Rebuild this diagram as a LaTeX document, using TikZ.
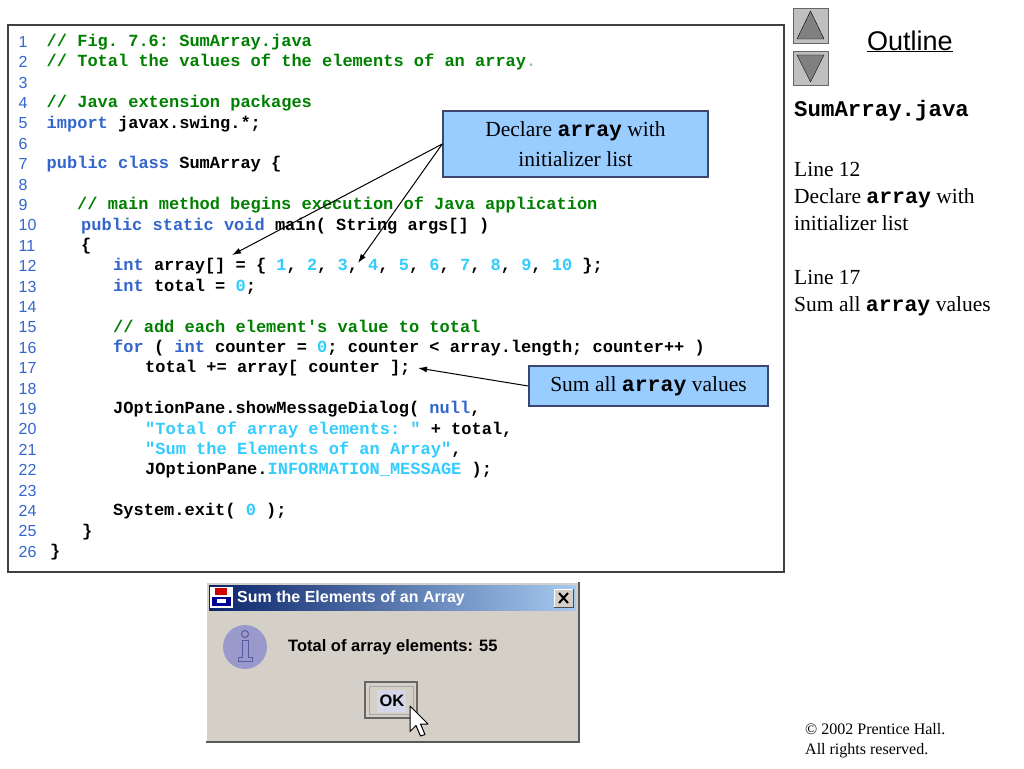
\documentclass[tikz,border=0pt]{standalone}
\usepackage{fontspec}
\setmainfont{Liberation Serif}
\setsansfont{Liberation Sans}
\setmonofont{Liberation Mono}
\usetikzlibrary{arrows.meta}
\definecolor{cmtgreen}{RGB}{0,128,0}
\definecolor{kwblue}{RGB}{51,102,204}
\definecolor{litcyan}{RGB}{51,204,255}
\definecolor{callfill}{RGB}{153,204,255}
\definecolor{callline}{RGB}{60,70,110}
\definecolor{dlggray}{RGB}{212,208,200}
\definecolor{titledark}{RGB}{10,36,106}
\definecolor{titlelight}{RGB}{166,202,240}
\definecolor{infoblue}{RGB}{153,153,204}
\definecolor{infoline}{RGB}{90,90,160}
\newcommand{\cmt}[1]{\textcolor{cmtgreen}{#1}}
\newcommand{\kw}[1]{\textcolor{kwblue}{#1}}
\newcommand{\lit}[1]{\textcolor{litcyan}{#1}}
\newcommand{\fsz}[2]{\fontsize{#1}{#2}\selectfont}

\begin{document}
\begin{tikzpicture}[x=1pt,y=-1pt,
    code/.style={anchor=base west,inner sep=0pt,font=\fsz{17}{20}\ttfamily\bfseries},
    lnum/.style={anchor=base west,inner sep=0pt,text=kwblue,font=\fsz{16}{19}\sffamily},
    callout/.style={draw=callline,line width=1.5pt,fill=callfill,align=center,inner sep=0pt,font=\fsz{21.5}{30}\rmfamily},
    callarrow/.style={-{Latex[length=9pt,width=6pt]},line width=1pt},
    side/.style={anchor=base west,inner sep=0pt,font=\fsz{21.5}{27}\rmfamily},
    dlgtext/.style={inner sep=0pt,font=\fsz{16.5}{20}\sffamily\bfseries}]
  \useasboundingbox (0,0) rectangle (1024,768);
  \fill[white] (0,0) rectangle (1024,768);
  \draw[line width=1.5pt,black!75] (8,25) rectangle (784,572);
  \foreach \i in {1,...,26}
    \node[lnum] (n\i) at (18.5,{41.5+20.4*(\i-1)+5.7}) {\i};
  \foreach \i/\x/\t in {
    1/46.5/{\cmt{// Fig. 7.6: SumArray.java}},
    2/46.5/{\cmt{// Total the values of the elements of an array}\textcolor{cmtgreen!40}{.}},
    4/46.5/{\cmt{// Java extension packages}},
    5/46.5/{\kw{import} javax.swing.*;},
    7/46.5/{\kw{public class} SumArray \{},
    9/77/{\cmt{// main method begins execution of Java application}},
    10/81/{\kw{public static void} main( String args[] )},
    11/81/{\{},
    12/113/{\kw{int} array[] = \{ \lit{1}, \lit{2}, \lit{3}, \lit{4}, \lit{5}, \lit{6}, \lit{7}, \lit{8}, \lit{9}, \lit{10} \};},
    13/113/{\kw{int} total = \lit{0};},
    15/113/{\cmt{// add each element's value to total}},
    16/113/{\kw{for} ( \kw{int} counter = \lit{0}; counter < array.length; counter++ )},
    17/145/{total += array[ counter ];},
    19/113/{JOptionPane.showMessageDialog( \kw{null},},
    20/145/{\lit{"Total of array elements: "} + total,},
    21/145/{\lit{"Sum the Elements of an Array"},},
    22/145/{JOptionPane.\lit{INFORMATION\_MESSAGE} );},
    24/113/{System.exit( \lit{0} );},
    25/82/{\}},
    26/50/{\}}}
    \node[code] (c\i) at (\x,{41.5+20.4*(\i-1)+5}) {\t};
  \node[callout,minimum width=265,minimum height=66] (decl) at (575.5,144)
    {Declare \textbf{\texttt{array}} with\\initializer list};
  \node[callout,minimum width=239,minimum height=40] (sumall) at (648.5,386)
    {Sum all \textbf{\texttt{array}} values};
  \coordinate (t1) at (232,255);
  \coordinate (t2) at (358,263);
  \coordinate (t3) at (418,368);
  \draw[callarrow] (decl.west) -- (t1);
  \draw[callarrow] (decl.west) -- (t2);
  \draw[callarrow] (sumall.west) -- (t3);
  \fill[dlggray] (206,582) rectangle (579,742);
  \draw[white,line width=1.5pt] (206,742) -- (206,582) -- (579,582);
  \draw[black!65,line width=1.5pt] (206,742) -- (579,742) -- (579,582);
  \shade[left color=titledark,right color=titlelight] (209,585) rectangle (576,610);
  \fill[white] (210,587) rectangle (233,608);
  \fill[red!80!black] (215,588) rectangle (227,595);
  \fill[blue!60!black] (212,597) rectangle (231,606);
  \fill[white] (217,599) rectangle (226,603);
  \node[dlgtext,anchor=west,text=white,font=\fsz{16}{20}\sffamily\bfseries] (title) at (237,598) {Sum the Elements of an Array};
  \fill[dlggray] (554,589) rectangle (573,607);
  \draw[white] (554,607) -- (554,589) -- (573,589);
  \draw[black!70] (554,607) -- (573,607) -- (573,589);
  \draw[line width=2pt] (559,593) -- (568,603) (568,593) -- (559,603);
  \fill[infoblue] (245,647) circle (22);
  \draw[infoline,line width=1pt] (245,634) circle (3.5);
  \draw[infoline,line width=1pt] (242,640) -- (248,640) -- (248,657) -- (252,657) -- (252,661)
    -- (238,661) -- (238,657) -- (242,657) -- cycle;
  \node[dlgtext,anchor=west] (msg) at (288,647) {Total of array elements: 55};
  \draw[black!60,line width=2pt] (365,682) rectangle (417,718);
  \draw[black!35,line width=1pt] (369,686) rectangle (413,714);
  \fill[infoblue!40] (377,690) rectangle (406,712);
  \node[dlgtext] (ok) at (392,701) {OK};
  \draw[fill=white,line width=1pt,line join=round] (410,706) -- (410,731.5) -- (416,725.5) -- (420.5,736)
    -- (425,734.5) -- (420.5,724) -- (428,724) -- cycle;
  \draw[fill=black!25,draw=black!60] (793,8) rectangle (828,43);
  \draw[fill=black!50,draw=black] (797,39) -- (824,39) -- (810.5,11) -- cycle;
  \draw[fill=black!25,draw=black!60] (793,51) rectangle (828,85);
  \draw[fill=black!50,draw=black] (797,55) -- (824,55) -- (810.5,82) -- cycle;
  \node[anchor=base west,inner sep=0pt,font=\fsz{27}{30}\sffamily] (outl) at (867,50) {\underline{Outline}};
  \node[anchor=base west,inner sep=0pt,font=\fsz{22.4}{27}\ttfamily\bfseries] (file) at (794,116) {SumArray.java};
  \node[side] (l12) at (794,176) {Line 12};
  \node[side] (l12a) at (794,203) {Declare \textbf{\texttt{array}} with};
  \node[side] (l12b) at (794,230) {initializer list};
  \node[side] (l17) at (794,284) {Line 17};
  \node[side] (l17a) at (794,311) {Sum all \textbf{\texttt{array}} values};
  \node[anchor=base west,inner sep=0pt,font=\fsz{16}{20}\rmfamily] (copy1) at (805,734) {\textcopyright{} 2002 Prentice Hall.};
  \node[anchor=base west,inner sep=0pt,font=\fsz{16}{20}\rmfamily] (copy2) at (805,754) {All rights reserved.};
\end{tikzpicture}
\end{document}
